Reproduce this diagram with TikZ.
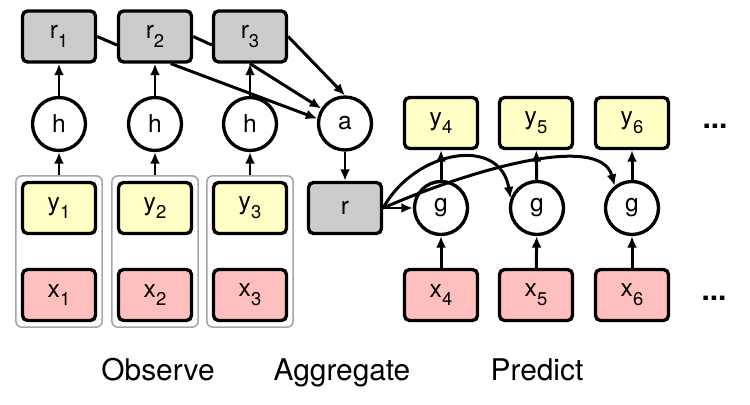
\documentclass[tikz,border=0pt]{standalone}
\usepackage{fontspec}
\setmainfont{TeX Gyre Heros}
\usetikzlibrary{arrows.meta,fit}
\definecolor{repgray}{HTML}{CCCCCC}
\definecolor{outyellow}{HTML}{FFFFC6}
\definecolor{inpink}{HTML}{FFBFBF}
\newcommand{\lowsub}[1]{\raisebox{-5pt}{\fontsize{10.5}{12}\selectfont #1}}
\tikzset{
    box/.style={draw, line width=1.9pt, rounded corners=0.1cm, minimum width=1.46cm, minimum height=1.02cm, inner sep=0pt, font=\fontsize{14}{16}\selectfont},
    repbox/.style={box, fill=repgray},
    outbox/.style={box, fill=outyellow},
    inbox/.style={box, fill=inpink},
    op/.style={draw, circle, line width=1.9pt, fill=white, minimum size=1.06cm, inner sep=0pt, font=\fontsize{14}{16}\selectfont},
    obsframe/.style={draw=black!35, line width=0.9pt, rounded corners=0.12cm, inner sep=0.1cm},
    arr/.style={line width=1.7pt, -{Latex[length=0.23cm,width=0.2cm]}},
    lnk/.style={line width=1.7pt},
    caption/.style={anchor=base, font=\fontsize{17}{20}\selectfont},
    more/.style={font=\fontsize{17}{20}\selectfont\bfseries}
}
\begin{document}
\begin{tikzpicture}[x=0.02cm, y=-0.02cm]
        \useasboundingbox (0,0) rectangle (750,405);

        \node[repbox] (r1) at (59,36.5) {r\lowsub{1}};
        \node[repbox] (r2) at (155,36.5) {r\lowsub{2}};
        \node[repbox] (r3) at (250,36.5) {r\lowsub{3}};
        \node[op] (h1) at (59,124) {h};
        \node[op] (h2) at (155,124) {h};
        \node[op] (h3) at (250,124) {h};
        \node[outbox] (y1) at (59,208) {y\lowsub{1}};
        \node[outbox] (y2) at (155,208) {y\lowsub{2}};
        \node[outbox] (y3) at (250,208) {y\lowsub{3}};
        \node[inbox] (x1) at (59,295) {x\lowsub{1}};
        \node[inbox] (x2) at (155,295) {x\lowsub{2}};
        \node[inbox] (x3) at (250,295) {x\lowsub{3}};
        \node[obsframe, fit=(y1)(x1)] (obs1) {};
        \node[obsframe, fit=(y2)(x2)] (obs2) {};
        \node[obsframe, fit=(y3)(x3)] (obs3) {};

        \node[op] (a) at (345,123.5) {a};
        \node[repbox] (r) at (345,208) {r};

        \node[outbox] (y4) at (441,123) {y\lowsub{4}};
        \node[outbox] (y5) at (536,123) {y\lowsub{5}};
        \node[outbox] (y6) at (632,123) {y\lowsub{6}};
        \node[op] (g4) at (441,208) {g};
        \node[op] (g5) at (537,208) {g};
        \node[op] (g6) at (632,208) {g};
        \node[inbox] (x4) at (441,295) {x\lowsub{4}};
        \node[inbox] (x5) at (536,295) {x\lowsub{5}};
        \node[inbox] (x6) at (632,295) {x\lowsub{6}};
        \node[more] (dotsup) at (715,126) {...};
        \node[more] (dotsdown) at (714,298) {...};

        \draw[arr] (obs1) -- (h1);
        \draw[arr] (obs2) -- (h2);
        \draw[arr] (obs3) -- (h3);
        \draw[arr] (h1) -- (r1);
        \draw[arr] (h2) -- (r2);
        \draw[arr] (h3) -- (r3);
        \draw[lnk] (r1.east) -- ([yshift=-0.17cm]r2.west);
        \draw[lnk] (r2.east) -- ([yshift=-0.17cm]r3.west);
        \draw[arr] (r3.east) -- (a.north);
        \draw[arr] (r2.-60) -- (a.170);
        \draw[arr] (r3.south) -- (a);
        \draw[arr] (a) -- (r);

        \draw[arr] (r.east) -- (g4.west);
        \draw[arr] (r.east) .. controls (415,150) and (500,135) .. (g5.160);
        \draw[arr] (r.east) .. controls (470,170) and (600,132) .. (g6.128);
        \draw[arr] (x4) -- (g4);
        \draw[arr] (x5) -- (g5);
        \draw[arr] (x6) -- (g6);
        \draw[arr] (g4) -- (y4);
        \draw[arr] (g5) -- (y5);
        \draw[arr] (g6) -- (y6);

        \node[caption] (observe) at (158,380) {Observe};
        \node[caption] (aggregate) at (342,380) {Aggregate};
        \node[caption] (predict) at (537,380) {Predict};
    \end{tikzpicture}
\end{document}
